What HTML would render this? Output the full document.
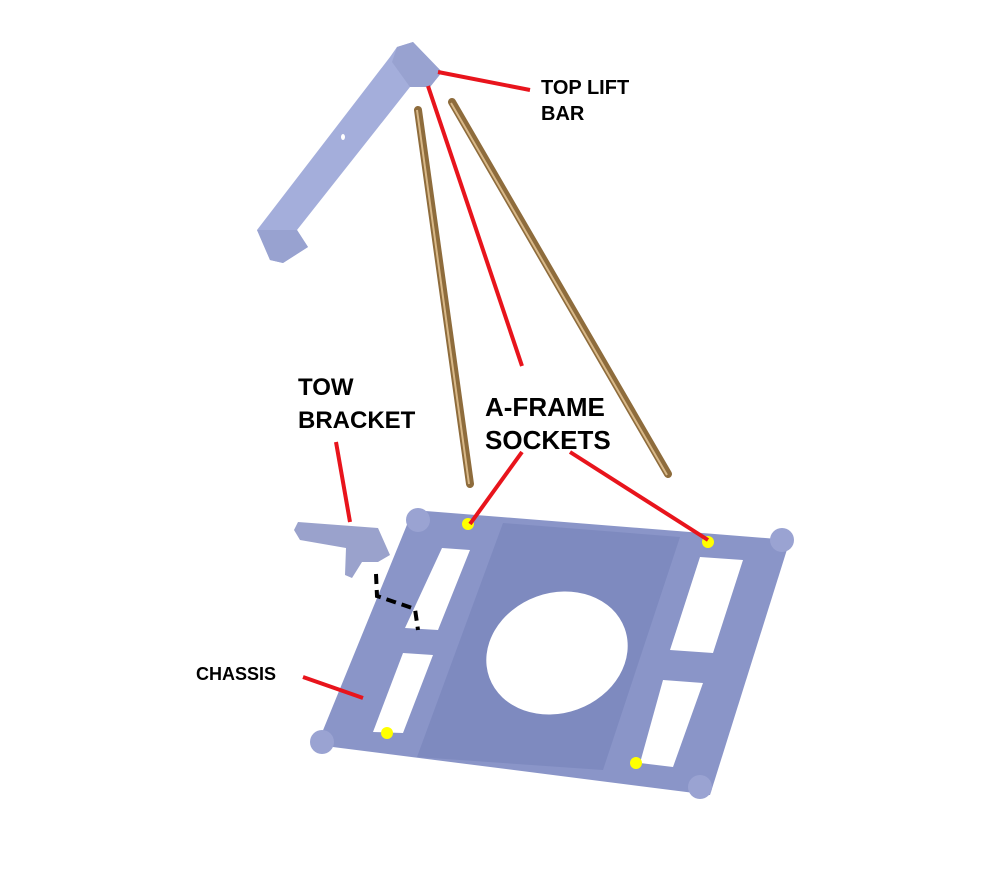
<!DOCTYPE html>
<html><head><style>
html,body{margin:0;padding:0;background:#fff;}
svg{display:block;}
text{font-family:"Liberation Sans",sans-serif;font-weight:bold;fill:#000;}
</style></head><body>
<svg width="1000" height="880" viewBox="0 0 1000 880" xmlns="http://www.w3.org/2000/svg">
<!-- top lift bar -->
<polygon points="397,47 413,42 442,72 430,87 410,87 297,230 308,247 283,263 270,260 257,230 390,57" fill="#a4aedb"/>
<polygon points="397,47 413,42 442,72 430,87 410,87 392,62" fill="#98a2d0"/>
<polygon points="257,230 297,230 308,247 283,263 270,260" fill="#98a2d0"/>
<ellipse cx="343" cy="137" rx="2" ry="3" fill="#fff"/>
<!-- rods -->
<line x1="418" y1="110" x2="470" y2="484" stroke="#8e6c3c" stroke-width="8" stroke-linecap="round"/>
<line x1="417" y1="110" x2="469" y2="484" stroke="#d8b888" stroke-width="2"/>
<line x1="452" y1="102" x2="668" y2="474" stroke="#8e6c3c" stroke-width="8" stroke-linecap="round"/>
<line x1="451" y1="103" x2="667" y2="475" stroke="#d8b888" stroke-width="2"/>
<!-- chassis -->
<polygon points="413,510 790,540 710,795 317,745" fill="#8a95c8"/>
<polygon points="503,523 680,537 603,770 417,757" fill="#7e8abf"/>
<polygon points="442,548 470,550 438,630 405,628" fill="#fff"/>
<polygon points="403,653 433,655 403,733 373,732" fill="#fff"/>
<polygon points="700,557 743,560 713,653 670,650" fill="#fff"/>
<polygon points="663,680 703,683 673,767 640,763" fill="#fff"/>
<ellipse cx="557" cy="653" rx="72" ry="60" transform="rotate(-20 557 653)" fill="#fff"/>
<g fill="#9aa3d2">
<circle cx="418" cy="520" r="12"/><circle cx="782" cy="540" r="12"/>
<circle cx="322" cy="742" r="12"/><circle cx="700" cy="787" r="12"/>
</g>
<!-- tow bracket -->
<polygon points="298,522 378,528 390,555 378,562 362,562 352,578 345,575 346,548 300,540 294,530" fill="#9aa2cc"/>
<!-- yellow dots -->
<g fill="#ffff00">
<circle cx="468" cy="524" r="6"/><circle cx="708" cy="542" r="6"/>
<circle cx="387" cy="733" r="6"/><circle cx="636" cy="763" r="6"/>
</g>
<!-- red leaders -->
<g stroke="#e8141c" stroke-width="4" fill="none">
<line x1="438" y1="72" x2="530" y2="90"/>
<line x1="428" y1="86" x2="522" y2="366"/>
<line x1="336" y1="442" x2="350" y2="522"/>
<line x1="522" y1="452" x2="470" y2="524"/>
<line x1="570" y1="452" x2="708" y2="540"/>
<line x1="303" y1="677" x2="363" y2="698"/>
</g>
<polyline points="376,574 377,596 415,609 418,630" stroke="#000" stroke-width="4" stroke-dasharray="10,6" fill="none"/>
<!-- labels -->
<text x="541" y="94" font-size="20">TOP LIFT</text>
<text x="541" y="120" font-size="20">BAR</text>
<text x="298" y="395" font-size="24">TOW</text>
<text x="298" y="428" font-size="24">BRACKET</text>
<text x="485" y="416" font-size="26">A-FRAME</text>
<text x="485" y="449" font-size="26">SOCKETS</text>
<text x="196" y="680" font-size="18">CHASSIS</text>
</svg>
</body></html>
